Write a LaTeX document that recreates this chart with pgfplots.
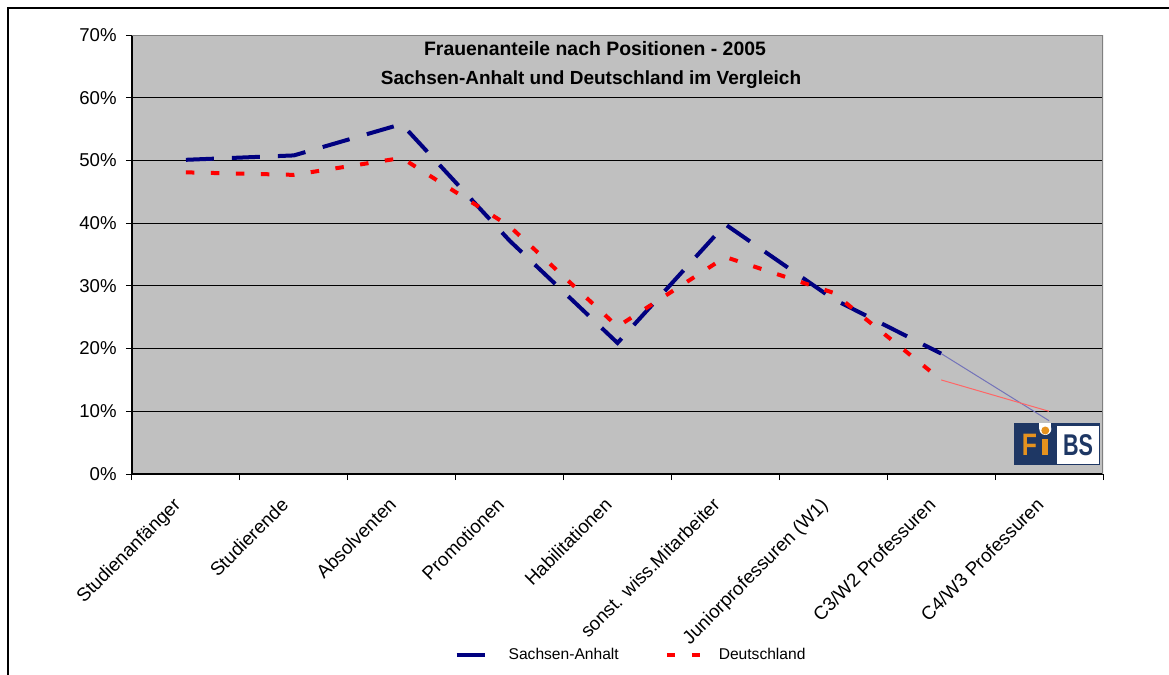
\documentclass[border=0pt]{standalone}
\usepackage{graphicx}
\usepackage{pgfplots}
\pgfplotsset{compat=1.18}
\usepackage{fontspec}
\setmainfont{Liberation Sans}
\definecolor{navyline}{HTML}{000080}
\definecolor{plotgray}{HTML}{C0C0C0}
\definecolor{logoblue}{HTML}{1E3764}
\definecolor{logoorange}{HTML}{E5921F}
\begin{document}
\begin{tikzpicture}[x=0.5pt,y=-0.5pt]
\path[use as bounding box] (0,0) rectangle (1169,675);
\draw[line width=1pt] (8.3,675) -- (8.3,8.3) -- (1169,8.3);
\begin{axis}[
  at={(66pt,-17.5pt)}, anchor=north west,
  scale only axis, width=485.5pt, height=219.5pt,
  xmin=0.5, xmax=9.5, ymin=0, ymax=70,
  axis background/.style={fill=plotgray},
  axis x line*=bottom, axis y line*=left,
  axis line style={black, line width=0.6pt, -},
  every outer x axis line/.append style={-},
  every outer y axis line/.append style={-},
  xtick={1,...,9},
  xticklabels={Studienanfänger,Studierende,Absolventen,Promotionen,Habilitationen,sonst. wiss.Mitarbeiter,Juniorprofessuren (W1),C3/W2 Professuren,C4/W3 Professuren},
  minor xtick={0.5,1.5,...,9.5},
  ytick={0,10,...,70},
  minor ytick={0,10,...,70},
  yticklabel={\pgfmathprintnumber{\tick}\%},
  major tick length=0pt, minor tick length=3pt,
  tick align=outside,
  tick style={black, line width=0.5pt},
  ymajorgrids, major grid style={black, line width=0.5pt},
  yticklabel style={anchor=east, inner sep=0pt, xshift=-7.5pt, font=\fontsize{9.3}{11}\selectfont},
  xticklabel style={xshift=-7pt, yshift=-11pt, rotate=45, anchor=north east, inner sep=0pt, font=\fontsize{9.4}{11}\selectfont},
  /pgf/number format/assume math mode=true,
  legend style={at={(0.515,-0.412)}, anchor=center, draw=none, fill=none, legend columns=2,
    font=\fontsize{7.8}{9}\selectfont,
    /tikz/every odd column/.append style={column sep=6pt},
    /tikz/every even column/.append style={column sep=21pt}},
  legend image code/.code={\draw[#1] (0pt,0pt) -- (17pt,0pt);},
]
\addplot[navyline, line width=2pt, dash pattern=on 14pt off 9pt] coordinates {
 (1,50.1) (2,50.8) (3,55.8) (4,37.2) (5,20.9) (6,39.8) (7,27.9) (8,19.2)};
\addlegendentry{Sachsen-Anhalt}
\addplot[red, line width=2pt, dash pattern=on 4.25pt off 8.25pt] coordinates {
 (1,48.1) (2,47.7) (3,50.4) (4,39.5) (5,23.5) (6,34.6) (7,28.9) (8,15.0)};
\addlegendentry{Deutschland}
\addplot[forget plot, navyline!55!white, line width=0.5pt] coordinates {(8,19.2) (9,8.5)};
\addplot[forget plot, red!60!white, line width=0.5pt] coordinates {(8,15.0) (9,10.0)};
\draw[black!50, line width=0.6pt] (rel axis cs:0,1) -- (rel axis cs:1,1) -- (rel axis cs:1,0);
\end{axis}
% title
\node[anchor=base, font=\bfseries\fontsize{9.7}{11}\selectfont] at (595,55) {Frauenanteile nach Positionen - 2005};
\node[anchor=base, font=\bfseries\fontsize{9.5}{11}\selectfont] at (591,84.3) {Sachsen-Anhalt und Deutschland im Vergleich};
% logo
\fill[logoblue] (1014,423) rectangle (1099.5,464.5);
\fill[white] (1057,425.5) rectangle (1098.5,463.5);
\node[anchor=base, text=logoblue, font=\bfseries\fontsize{15}{16}\selectfont, inner sep=0pt] at (1078,455) {\scalebox{0.72}[1]{BS}};
\node[anchor=base, text=logoorange, font=\bfseries\fontsize{15.5}{16}\selectfont, inner sep=0pt] at (1029.5,455) {\scalebox{0.8}[1]{F}};
\fill[logoorange] (1042.3,439.3) rectangle (1047.7,455);
\fill[white] (1045.3,429) circle (6);
\fill[white] (1039.3,423) rectangle (1051.3,429);
\fill[logoorange] (1045.3,430.5) circle (4);
\end{tikzpicture}
\end{document}
